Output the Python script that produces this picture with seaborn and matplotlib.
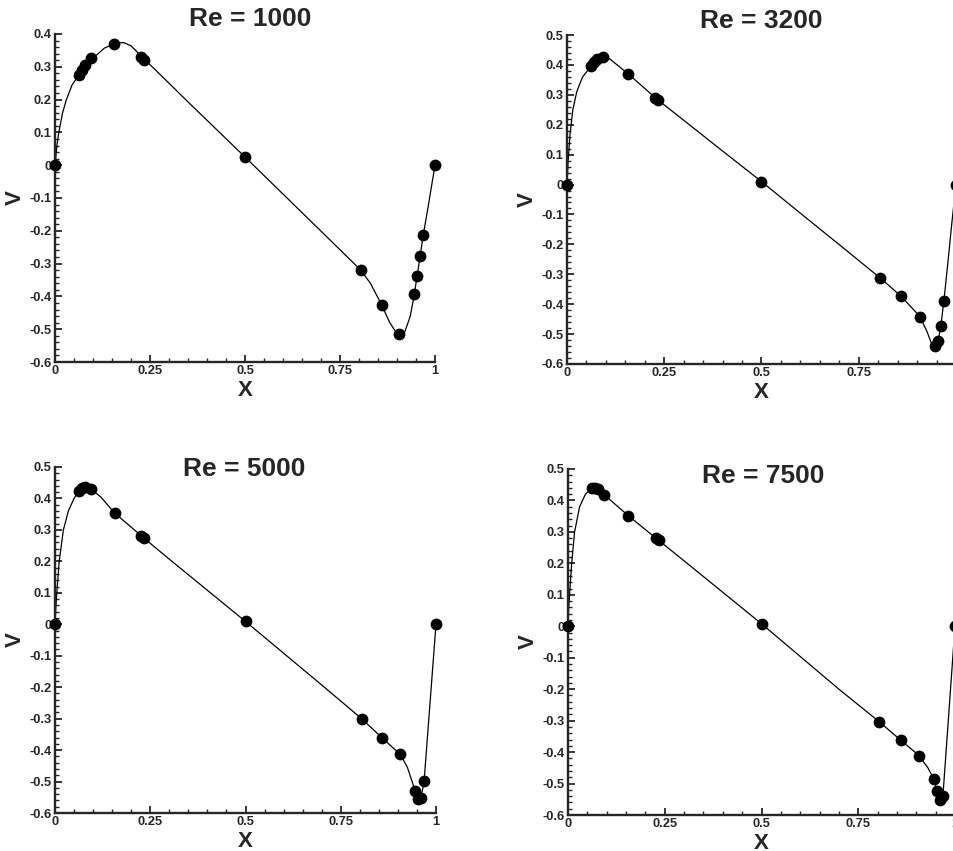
import matplotlib
matplotlib.use("Agg")
import matplotlib.pyplot as plt
import seaborn as sns
from matplotlib.ticker import MultipleLocator, FuncFormatter

# Benchmark points (filled dots), shared x positions
x_pts = [0.0, 0.0625, 0.0703, 0.0781, 0.0938, 0.1563, 0.2266, 0.2344, 0.5,
         0.8047, 0.8594, 0.9063, 0.9453, 0.9531, 0.9609, 0.9688, 1.0]
v_pts_1000 = [0.0, 0.275, 0.290, 0.304, 0.326, 0.371, 0.331, 0.322, 0.025,
              -0.320, -0.427, -0.516, -0.392, -0.337, -0.277, -0.214, 0.0]
v_pts_3200 = [0.0, 0.396, 0.409, 0.419, 0.428, 0.371, 0.290, 0.282, 0.010,
              -0.312, -0.374, -0.443, -0.541, -0.524, -0.474, -0.390, 0.0]
v_pts_5000 = [0.0, 0.424, 0.433, 0.436, 0.430, 0.354, 0.281, 0.273, 0.009,
              -0.300, -0.362, -0.414, -0.529, -0.554, -0.551, -0.498, 0.0]
v_pts_7500 = [0.0, 0.440, 0.440, 0.436, 0.418, 0.351, 0.281, 0.273, 0.008,
              -0.304, -0.362, -0.411, -0.486, -0.523, -0.552, -0.539, 0.0]

# Computed solution (solid line)
line_x_1000 = [0.0, 0.005, 0.01, 0.02, 0.03, 0.045, 0.0625, 0.08, 0.10, 0.13, 0.16,
               0.18, 0.20, 0.2344, 0.27, 0.30, 0.35, 0.40, 0.45, 0.50, 0.60, 0.70,
               0.8047, 0.83, 0.8594, 0.88, 0.90, 0.91, 0.92, 0.935, 0.9453, 0.9531,
               0.9609, 0.9688, 0.98, 0.99, 1.0]
line_v_1000 = [0.0, 0.06, 0.10, 0.16, 0.20, 0.245, 0.275, 0.302, 0.326, 0.357, 0.372,
               0.374, 0.364, 0.324, 0.284, 0.250, 0.193, 0.137, 0.081, 0.025, -0.088, -0.201,
               -0.320, -0.360, -0.425, -0.478, -0.514, -0.520, -0.510, -0.460, -0.395, -0.337,
               -0.277, -0.214, -0.140, -0.070, 0.0]

line_x_3200 = [0.0, 0.003, 0.008, 0.015, 0.025, 0.04, 0.0625, 0.08, 0.095, 0.11,
               0.1563, 0.2344, 0.30, 0.40, 0.50, 0.60, 0.70, 0.8047, 0.8594, 0.9063,
               0.925, 0.938, 0.9453, 0.9531, 0.9609, 0.9688, 0.98, 0.99, 1.0]
line_v_3200 = [0.0, 0.08, 0.17, 0.25, 0.31, 0.36, 0.396, 0.418, 0.428, 0.420,
               0.371, 0.282, 0.215, 0.112, 0.010, -0.096, -0.201, -0.312, -0.374, -0.440,
               -0.490, -0.535, -0.552, -0.530, -0.474, -0.390, -0.250, -0.120, 0.0]

line_x_5000 = [0.0, 0.003, 0.006, 0.011, 0.022, 0.035, 0.05, 0.0625, 0.078, 0.0938,
               0.12, 0.1563, 0.2344, 0.30, 0.40, 0.50, 0.60, 0.70, 0.8047, 0.8594,
               0.9063, 0.925, 0.94, 0.9453, 0.9531, 0.958, 0.9609, 0.9688, 1.0]
line_v_5000 = [0.0, 0.07, 0.12, 0.20, 0.30, 0.36, 0.40, 0.424, 0.437, 0.430,
               0.405, 0.354, 0.273, 0.207, 0.108, 0.009, -0.092, -0.193, -0.300, -0.362,
               -0.414, -0.455, -0.510, -0.529, -0.550, -0.556, -0.551, -0.498, 0.0]

line_x_7500 = [0.0, 0.002, 0.004, 0.0095, 0.017, 0.03, 0.045, 0.0625, 0.0703, 0.0781,
               0.0938, 0.1563, 0.2344, 0.30, 0.40, 0.50, 0.60, 0.70, 0.8047, 0.8594,
               0.9063, 0.93, 0.9453, 0.9531, 0.9609, 0.9688, 1.0]
line_v_7500 = [0.0, 0.06, 0.10, 0.20, 0.30, 0.38, 0.42, 0.440, 0.440, 0.436,
               0.418, 0.351, 0.273, 0.208, 0.108, 0.008, -0.096, -0.200, -0.304, -0.362,
               -0.410, -0.450, -0.486, -0.523, -0.552, -0.539, 0.0]

titles = ["Re = 1000", "Re = 3200", "Re = 5000", "Re = 7500"]
y_tops = [0.4, 0.5, 0.5, 0.5]

sns.set_style("ticks")
plt.rcParams["font.family"] = ["Liberation Sans", "DejaVu Sans"]

W, H = 954, 851
fig = plt.figure(figsize=(W / 100, H / 100), dpi=100)

# axes boxes in pixels: left, x=1 edge, top, bottom
boxes = [(55, 435, 34, 362), (567, 956, 35, 364),
         (55, 436, 467, 813), (568, 955, 469, 815)]
# title centre x and baseline y, in pixels
title_pos = [(250, 26), (761, 28), (244, 476), (763, 483)]

pts = [v_pts_1000, v_pts_3200, v_pts_5000, v_pts_7500]
lines = [(line_x_1000, line_v_1000), (line_x_3200, line_v_3200),
         (line_x_5000, line_v_5000), (line_x_7500, line_v_7500)]

fmt = FuncFormatter(lambda v, _: f"{round(v, 2) + 0.0:g}")

for i in range(4):
    l, r, t, b = boxes[i]
    ax = fig.add_axes([l / W, 1 - b / H, (r - l) / W, (b - t) / H])
    lx, lv = lines[i]
    sns.lineplot(x=lx, y=lv, ax=ax, color="black", linewidth=0.9,
                 sort=False, estimator=None)
    sns.scatterplot(x=x_pts, y=pts[i], ax=ax, color="black", s=72,
                    linewidth=0, clip_on=False, zorder=3)
    ax.set_xlim(0, 1)
    ax.set_ylim(-0.6, y_tops[i])
    sns.despine(ax=ax)
    for s in ["left", "bottom"]:
        ax.spines[s].set_linewidth(1.7)
    ax.xaxis.set_major_locator(MultipleLocator(0.25))
    ax.xaxis.set_minor_locator(MultipleLocator(0.05))
    ax.yaxis.set_major_locator(MultipleLocator(0.1))
    ax.yaxis.set_minor_locator(MultipleLocator(0.02))
    ax.xaxis.set_major_formatter(fmt)
    ax.yaxis.set_major_formatter(fmt)
    ax.tick_params(which="major", direction="in", length=5, width=1.3,
                   labelsize=9.3, pad=2.5)
    ax.tick_params(which="minor", direction="in", length=3, width=1.0)
    for lab in ax.get_xticklabels() + ax.get_yticklabels():
        lab.set_fontweight("bold")
    ax.set_xlabel("X", fontsize=16, fontweight="bold")
    ax.set_ylabel("V", fontsize=16, fontweight="bold")
    ax.xaxis.set_label_coords(0.5, -18 / (b - t))
    ax.yaxis.set_label_coords(-29 / (r - l), 0.5)
    fig.text(title_pos[i][0] / W, 1 - title_pos[i][1] / H, titles[i],
             ha="center", va="baseline", fontsize=19, fontweight="bold")

fig.savefig("out.png", dpi=100)
